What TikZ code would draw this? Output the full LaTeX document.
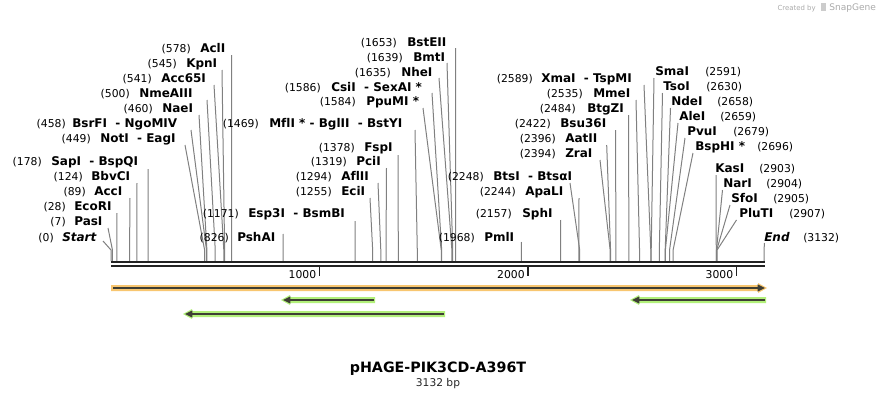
\documentclass[tikz,border=0pt]{standalone}
\usepackage{fontspec}
\setmainfont{DejaVu Sans}
\usetikzlibrary{arrows.meta}
\definecolor{siteline}{gray}{0.5}
\definecolor{bb}{RGB}{34,34,34}
\definecolor{orband}{RGB}{248,198,112}
\definecolor{grband}{RGB}{178,240,122}
\definecolor{featline}{RGB}{62,62,52}
\definecolor{credit}{RGB}{170,170,170}
\begin{document}
\begin{tikzpicture}[x=0.75pt,y=-0.75pt,
  numlbl/.style={inner sep=0pt,font=\fontsize{8.1}{9}\selectfont},
  namelbl/.style={inner sep=0pt,font=\fontsize{9}{10}\selectfont\bfseries},
  sitel/.style={draw=siteline,line width=0.75pt},
  bbline/.style={draw=bb,line width=1.75pt},
  tickl/.style={draw=bb,line width=1.1pt},
  featl/.style={draw=featline,line width=1.6pt,-{Triangle[length=5.5pt,width=5pt]}}]
\useasboundingbox (0,0) rectangle (876,400);

% left-type labels: y / number / number right x / name left x / name / line top x / line top y / position
\foreach [count=\i] \y/\n/\nr/\nl/\nm/\lx/\ly/\p in {
48/578/191/200/{AclI}/231.5/55/578,
63/545/177/186/{KpnI}/222/70/545,
78/541/152/161/{Acc65I}/214/85/541,
93/500/130/139/{NmeAIII}/207/100/500,
108/460/153/162/{NaeI}/199/115/460,
123/458/66/72/{BsrFI\ \ - NgoMIV}/191/130/458,
138/449/91/100/{NotI\ \ - EagI}/185/145/449,
161/178/42/51/{SapI\ \ - BspQI}/148/169/178,
176/124/83/91/{BbvCI}/137/183/124,
191/89/86/94/{AccI}/130/198/89,
206/28/66/74/{EcoRI}/117/213/28,
221/7/66/74/{PasI}/108/228/7,
237/0/54/62/{\textit{Start}}/103/241/0,
213/1171/239/248/{Esp3I\ \ - BsmBI}/355/221/1171,
237/826/229/237/{PshAI}/283/234/826,
123/1469/259/269/{Mf\kern0ptlI * - BglII\ \ - BstYI}/415/130/1469,
147/1378/355/364/{FspI}/398/155/1378,
161/1319/347/356/{PciI}/386.5/168/1319,
176/1294/332/341/{Af\kern0ptlII}/378/183/1294,
191/1255/332/341/{EciI}/370/198/1255,
42/1653/397/407/{BstEII}/455.5/48/1653,
57/1639/403/413/{BmtI}/447/63/1639,
72/1635/391/401/{NheI}/439/78/1635,
87/1586/321/331/{CsiI\ \ - SexAI *}/432/93/1586,
101/1584/356/366/{PpuMI *}/423/108/1584,
237/1968/475/484/{PmlI}/521.5/242/1968,
213/2157/512/522/{SphI}/560.5/220/2157,
176/2248/484/493/{BtsI\ \ - BtsαI}/570/183/2248,
191/2244/516/525/{ApaLI}/579/198/2244,
78/2589/533/541/{XmaI\ \ - TspMI}/644/85/2589,
93/2535/583/593/{MmeI}/636/100/2535,
108/2484/576/587/{BtgZI}/628.5/115/2484,
123/2422/551/560/{Bsu36I}/615.5/130/2422,
138/2396/556/565/{AatII}/606.7/145/2396,
153/2394/556/565/{ZraI}/600/160/2394}
{
  \coordinate (lt\i) at (\lx,\ly);
  \coordinate (lk\i) at ({111+0.2085*\p},250);
  \coordinate (lb\i) at ({111+0.2085*\p},261);
  \draw[sitel] (lt\i) -- (lk\i) -- (lb\i);
  \node[numlbl,anchor=base east] (ln\i) at (\nr,\y+4.4) {(\n)};
  \node[namelbl,anchor=base west] (lm\i) at (\nl,\y+4.4) {\nm};
}

% right-type labels: y / name left x / name / number left x / number / line top x / line top y / position
\foreach [count=\i] \y/\nl/\nm/\nx/\n/\lx/\ly/\p in {
71/655/{SmaI}/705/2591/654/78/2591,
86/663/{TsoI}/706/2630/662.5/93/2630,
101/671/{NdeI}/717/2658/670.5/108/2658,
116/679/{AleI}/720/2659/678/123/2659,
131/687/{PvuI}/733/2679/685/138/2679,
146/695/{BspHI *}/757/2696/693/153/2696,
168/715/{KasI}/759/2903/716/175/2903,
183/723/{NarI}/766/2904/722.5/190/2904,
198/731/{SfoI}/773/2905/730/205/2905,
213/739/{PluTI}/789/2907/736.5/220/2907,
237/764/{\textit{End}}/803/3132/764.5/243/3132}
{
  \coordinate (rt\i) at (\lx,\ly);
  \coordinate (rk\i) at ({111+0.2085*\p},250);
  \coordinate (rb\i) at ({111+0.2085*\p},261);
  \draw[sitel] (rt\i) -- (rk\i) -- (rb\i);
  \node[namelbl,anchor=base west] (rm\i) at (\nl,\y+4.4) {\nm};
  \node[numlbl,anchor=base west] (rn\i) at (\nx,\y+4.4) {(\n)};
}

% backbone
\coordinate (bbTL) at (111,262.2); \coordinate (bbTR) at (765,262.2);
\coordinate (bbBL) at (111,266.2); \coordinate (bbBR) at (765,266.2);
\draw[bbline] (bbTL) -- (bbTR);
\draw[bbline] (bbBL) -- (bbBR);

% ruler ticks
\foreach \k in {1000,2000,3000}{
  \coordinate (tk\k a) at ({111+0.2085*\k},267);
  \coordinate (tk\k b) at ({111+0.2085*\k},276);
  \draw[tickl] (tk\k a) -- (tk\k b);
  \node[numlbl,anchor=base east] (tl\k) at ({111+0.2085*\k-3},278.2) {\k};
}

% orange feature (forward)
\fill[orband] (111,285) -- (758,285) -- (758,283) -- (767,288) -- (758,293) -- (758,291) -- (111,291) -- cycle;
\coordinate (of1) at (113,288); \coordinate (of2) at (765,288);
\draw[featl] (of1) -- (of2);

% green features (reverse)
\foreach \xl/\xr/\yy [count=\j] in {282/375/300, 184/445/314, 631/766/300}{
  \fill[grband] (\xl-1,\yy) -- (\xl+8,\yy-5) -- (\xl+8,\yy-3) -- (\xr,\yy-3) -- (\xr,\yy+3) -- (\xl+8,\yy+3) -- (\xl+8,\yy+5) -- cycle;
  \coordinate (gs\j) at (\xr-1,\yy); \coordinate (ge\j) at (\xl+1,\yy);
  \draw[featl] (gs\j) -- (ge\j);
}

% title
\node[inner sep=0pt,font=\fontsize{10.7}{12}\selectfont\bfseries] (title) at (438,369) {pHAGE-PIK3CD-A396T};
\node[inner sep=0pt,font=\fontsize{8}{9}\selectfont,text=black!85] (size) at (438,383.5) {3132 bp};

% credit
\node[inner sep=0pt,anchor=base east,font=\fontsize{5.2}{6}\selectfont,text=credit] (cr1) at (816,10) {Created by};
\node[inner sep=0pt,anchor=base west,font=\fontsize{6.8}{8}\selectfont,text=credit] (cr2) at (829,10) {SnapGene};
\fill[credit!60] (820.5,3) rectangle (825.5,11);
\end{tikzpicture}
\end{document}
